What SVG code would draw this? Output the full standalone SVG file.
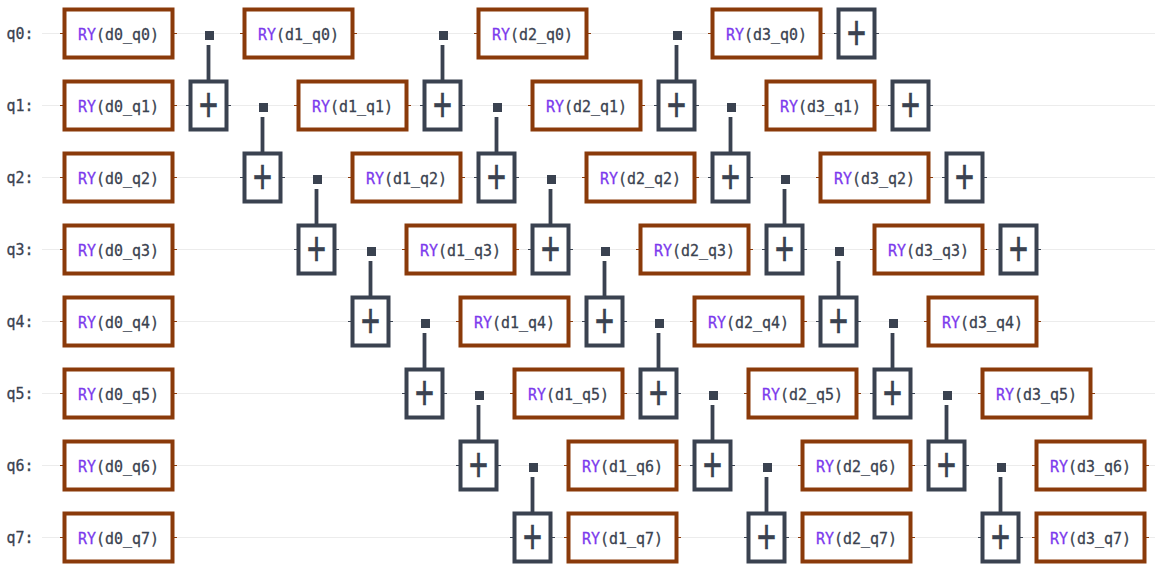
<svg xmlns="http://www.w3.org/2000/svg" width="1155" height="571" viewBox="0 0 1155 571">
<style>
text{font-family:"DejaVu Sans Mono","Liberation Mono",monospace;fill:#3a4250;stroke:#3a4250;stroke-width:.3}
.t{font-size:16px;text-anchor:middle;transform:scale(.935,1)}
.l{font-size:16px;transform:scale(.935,1)}
.k{fill:#7c3aed;stroke:#7c3aed}
.p{font-size:47px;text-anchor:middle;transform:scale(.67,1);stroke-width:.35}
.w{stroke:#ececec;stroke-width:1.2;fill:none}
.c{stroke:#3a4250;stroke-width:3.8;fill:none}
.d{fill:#3a4250}
.rb{fill:#fff;stroke:#8a3a0a;stroke-width:4}
.xb{fill:#fff;stroke:#3a4250;stroke-width:4}
.rt{stroke:#8a3a0a;stroke-width:1.2;fill:none}
.xt{stroke:#3a4250;stroke-width:1.2;fill:none}
</style>
<defs>
<g id="ry"><path class="rt" d="M-4.500 0H2M106 0H112.500"/><rect class="rb" x="0" y="-24" width="108" height="48"/></g>
<g id="xg"><path class="xt" d="M-22.500 0H-17M17 0H22.500"/><rect class="xb" x="-18" y="-24" width="36" height="48"/></g>
</defs>
<g id="connectors">
<path class="w" d="M42 33.500H1155M42 105.500H1155M42 177.500H1155M42 249.500H1155M42 321.500H1155M42 393.500H1155M42 465.500H1155M42 537.500H1155"/>
<path class="c" d="M208.500 45V82M262.500 117V154M316.500 189V226M370.500 261V298M424.500 333V370M478.500 405V442M532.500 477V514M442.500 45V82M496.500 117V154M550.500 189V226M604.500 261V298M658.500 333V370M712.500 405V442M766.500 477V514M676.500 45V82M730.500 117V154M784.500 189V226M838.500 261V298M892.500 333V370M946.500 405V442M1000.500 477V514"/>
</g>
<g id="labels"><text class="l" x="7" y="39.500">q0:</text><text class="l" x="7" y="111.500">q1:</text><text class="l" x="7" y="183.500">q2:</text><text class="l" x="7" y="255.500">q3:</text><text class="l" x="7" y="327.500">q4:</text><text class="l" x="7" y="399.500">q5:</text><text class="l" x="7" y="471.500">q6:</text><text class="l" x="7" y="543.500">q7:</text></g>
<g id="ry_d0_q0" transform="translate(64.500,33.500)"><use href="#ry"/><text class="t" x="57.750" y="6"><tspan class="k">RY</tspan>(d0_q0)</text></g>
<g id="ry_d0_q1" transform="translate(64.500,105.500)"><use href="#ry"/><text class="t" x="57.750" y="6"><tspan class="k">RY</tspan>(d0_q1)</text></g>
<g id="ry_d0_q2" transform="translate(64.500,177.500)"><use href="#ry"/><text class="t" x="57.750" y="6"><tspan class="k">RY</tspan>(d0_q2)</text></g>
<g id="ry_d0_q3" transform="translate(64.500,249.500)"><use href="#ry"/><text class="t" x="57.750" y="6"><tspan class="k">RY</tspan>(d0_q3)</text></g>
<g id="ry_d0_q4" transform="translate(64.500,321.500)"><use href="#ry"/><text class="t" x="57.750" y="6"><tspan class="k">RY</tspan>(d0_q4)</text></g>
<g id="ry_d0_q5" transform="translate(64.500,393.500)"><use href="#ry"/><text class="t" x="57.750" y="6"><tspan class="k">RY</tspan>(d0_q5)</text></g>
<g id="ry_d0_q6" transform="translate(64.500,465.500)"><use href="#ry"/><text class="t" x="57.750" y="6"><tspan class="k">RY</tspan>(d0_q6)</text></g>
<g id="ry_d0_q7" transform="translate(64.500,537.500)"><use href="#ry"/><text class="t" x="57.750" y="6"><tspan class="k">RY</tspan>(d0_q7)</text></g>
<g id="ry_d1_q0" transform="translate(244.500,33.500)"><use href="#ry"/><text class="t" x="57.750" y="6"><tspan class="k">RY</tspan>(d1_q0)</text></g>
<g id="ry_d1_q1" transform="translate(298.500,105.500)"><use href="#ry"/><text class="t" x="57.750" y="6"><tspan class="k">RY</tspan>(d1_q1)</text></g>
<g id="ry_d1_q2" transform="translate(352.500,177.500)"><use href="#ry"/><text class="t" x="57.750" y="6"><tspan class="k">RY</tspan>(d1_q2)</text></g>
<g id="ry_d1_q3" transform="translate(406.500,249.500)"><use href="#ry"/><text class="t" x="57.750" y="6"><tspan class="k">RY</tspan>(d1_q3)</text></g>
<g id="ry_d1_q4" transform="translate(460.500,321.500)"><use href="#ry"/><text class="t" x="57.750" y="6"><tspan class="k">RY</tspan>(d1_q4)</text></g>
<g id="ry_d1_q5" transform="translate(514.500,393.500)"><use href="#ry"/><text class="t" x="57.750" y="6"><tspan class="k">RY</tspan>(d1_q5)</text></g>
<g id="ry_d1_q6" transform="translate(568.500,465.500)"><use href="#ry"/><text class="t" x="57.750" y="6"><tspan class="k">RY</tspan>(d1_q6)</text></g>
<g id="ry_d1_q7" transform="translate(568.500,537.500)"><use href="#ry"/><text class="t" x="57.750" y="6"><tspan class="k">RY</tspan>(d1_q7)</text></g>
<g id="ry_d2_q0" transform="translate(478.500,33.500)"><use href="#ry"/><text class="t" x="57.750" y="6"><tspan class="k">RY</tspan>(d2_q0)</text></g>
<g id="ry_d2_q1" transform="translate(532.500,105.500)"><use href="#ry"/><text class="t" x="57.750" y="6"><tspan class="k">RY</tspan>(d2_q1)</text></g>
<g id="ry_d2_q2" transform="translate(586.500,177.500)"><use href="#ry"/><text class="t" x="57.750" y="6"><tspan class="k">RY</tspan>(d2_q2)</text></g>
<g id="ry_d2_q3" transform="translate(640.500,249.500)"><use href="#ry"/><text class="t" x="57.750" y="6"><tspan class="k">RY</tspan>(d2_q3)</text></g>
<g id="ry_d2_q4" transform="translate(694.500,321.500)"><use href="#ry"/><text class="t" x="57.750" y="6"><tspan class="k">RY</tspan>(d2_q4)</text></g>
<g id="ry_d2_q5" transform="translate(748.500,393.500)"><use href="#ry"/><text class="t" x="57.750" y="6"><tspan class="k">RY</tspan>(d2_q5)</text></g>
<g id="ry_d2_q6" transform="translate(802.500,465.500)"><use href="#ry"/><text class="t" x="57.750" y="6"><tspan class="k">RY</tspan>(d2_q6)</text></g>
<g id="ry_d2_q7" transform="translate(802.500,537.500)"><use href="#ry"/><text class="t" x="57.750" y="6"><tspan class="k">RY</tspan>(d2_q7)</text></g>
<g id="ry_d3_q0" transform="translate(712.500,33.500)"><use href="#ry"/><text class="t" x="57.750" y="6"><tspan class="k">RY</tspan>(d3_q0)</text></g>
<g id="ry_d3_q1" transform="translate(766.500,105.500)"><use href="#ry"/><text class="t" x="57.750" y="6"><tspan class="k">RY</tspan>(d3_q1)</text></g>
<g id="ry_d3_q2" transform="translate(820.500,177.500)"><use href="#ry"/><text class="t" x="57.750" y="6"><tspan class="k">RY</tspan>(d3_q2)</text></g>
<g id="ry_d3_q3" transform="translate(874.500,249.500)"><use href="#ry"/><text class="t" x="57.750" y="6"><tspan class="k">RY</tspan>(d3_q3)</text></g>
<g id="ry_d3_q4" transform="translate(928.500,321.500)"><use href="#ry"/><text class="t" x="57.750" y="6"><tspan class="k">RY</tspan>(d3_q4)</text></g>
<g id="ry_d3_q5" transform="translate(982.500,393.500)"><use href="#ry"/><text class="t" x="57.750" y="6"><tspan class="k">RY</tspan>(d3_q5)</text></g>
<g id="ry_d3_q6" transform="translate(1036.500,465.500)"><use href="#ry"/><text class="t" x="57.750" y="6"><tspan class="k">RY</tspan>(d3_q6)</text></g>
<g id="ry_d3_q7" transform="translate(1036.500,537.500)"><use href="#ry"/><text class="t" x="57.750" y="6"><tspan class="k">RY</tspan>(d3_q7)</text></g>
<g id="x1" transform="translate(208.500,105.500)"><use href="#xg"/><text class="p" y="14.500">+</text></g>
<g id="x2" transform="translate(262.500,177.500)"><use href="#xg"/><text class="p" y="14.500">+</text></g>
<g id="x3" transform="translate(316.500,249.500)"><use href="#xg"/><text class="p" y="14.500">+</text></g>
<g id="x4" transform="translate(370.500,321.500)"><use href="#xg"/><text class="p" y="14.500">+</text></g>
<g id="x5" transform="translate(424.500,393.500)"><use href="#xg"/><text class="p" y="14.500">+</text></g>
<g id="x6" transform="translate(478.500,465.500)"><use href="#xg"/><text class="p" y="14.500">+</text></g>
<g id="x7" transform="translate(532.500,537.500)"><use href="#xg"/><text class="p" y="14.500">+</text></g>
<g id="x8" transform="translate(442.500,105.500)"><use href="#xg"/><text class="p" y="14.500">+</text></g>
<g id="x9" transform="translate(496.500,177.500)"><use href="#xg"/><text class="p" y="14.500">+</text></g>
<g id="x10" transform="translate(550.500,249.500)"><use href="#xg"/><text class="p" y="14.500">+</text></g>
<g id="x11" transform="translate(604.500,321.500)"><use href="#xg"/><text class="p" y="14.500">+</text></g>
<g id="x12" transform="translate(658.500,393.500)"><use href="#xg"/><text class="p" y="14.500">+</text></g>
<g id="x13" transform="translate(712.500,465.500)"><use href="#xg"/><text class="p" y="14.500">+</text></g>
<g id="x14" transform="translate(766.500,537.500)"><use href="#xg"/><text class="p" y="14.500">+</text></g>
<g id="x15" transform="translate(676.500,105.500)"><use href="#xg"/><text class="p" y="14.500">+</text></g>
<g id="x16" transform="translate(730.500,177.500)"><use href="#xg"/><text class="p" y="14.500">+</text></g>
<g id="x17" transform="translate(784.500,249.500)"><use href="#xg"/><text class="p" y="14.500">+</text></g>
<g id="x18" transform="translate(838.500,321.500)"><use href="#xg"/><text class="p" y="14.500">+</text></g>
<g id="x19" transform="translate(892.500,393.500)"><use href="#xg"/><text class="p" y="14.500">+</text></g>
<g id="x20" transform="translate(946.500,465.500)"><use href="#xg"/><text class="p" y="14.500">+</text></g>
<g id="x21" transform="translate(1000.500,537.500)"><use href="#xg"/><text class="p" y="14.500">+</text></g>
<g id="x22" transform="translate(856.500,33.500)"><use href="#xg"/><text class="p" y="14.500">+</text></g>
<g id="x23" transform="translate(910.500,105.500)"><use href="#xg"/><text class="p" y="14.500">+</text></g>
<g id="x24" transform="translate(964.500,177.500)"><use href="#xg"/><text class="p" y="14.500">+</text></g>
<g id="x25" transform="translate(1018.500,249.500)"><use href="#xg"/><text class="p" y="14.500">+</text></g>
<g id="controls">
<rect class="d" x="205" y="31" width="9" height="9"/><rect class="d" x="259" y="103" width="9" height="9"/><rect class="d" x="313" y="175" width="9" height="9"/><rect class="d" x="367" y="247" width="9" height="9"/><rect class="d" x="421" y="319" width="9" height="9"/><rect class="d" x="475" y="391" width="9" height="9"/><rect class="d" x="529" y="463" width="9" height="9"/>
<rect class="d" x="439" y="31" width="9" height="9"/><rect class="d" x="493" y="103" width="9" height="9"/><rect class="d" x="547" y="175" width="9" height="9"/><rect class="d" x="601" y="247" width="9" height="9"/><rect class="d" x="655" y="319" width="9" height="9"/><rect class="d" x="709" y="391" width="9" height="9"/><rect class="d" x="763" y="463" width="9" height="9"/>
<rect class="d" x="673" y="31" width="9" height="9"/><rect class="d" x="727" y="103" width="9" height="9"/><rect class="d" x="781" y="175" width="9" height="9"/><rect class="d" x="835" y="247" width="9" height="9"/><rect class="d" x="889" y="319" width="9" height="9"/><rect class="d" x="943" y="391" width="9" height="9"/><rect class="d" x="997" y="463" width="9" height="9"/>
</g>
</svg>
